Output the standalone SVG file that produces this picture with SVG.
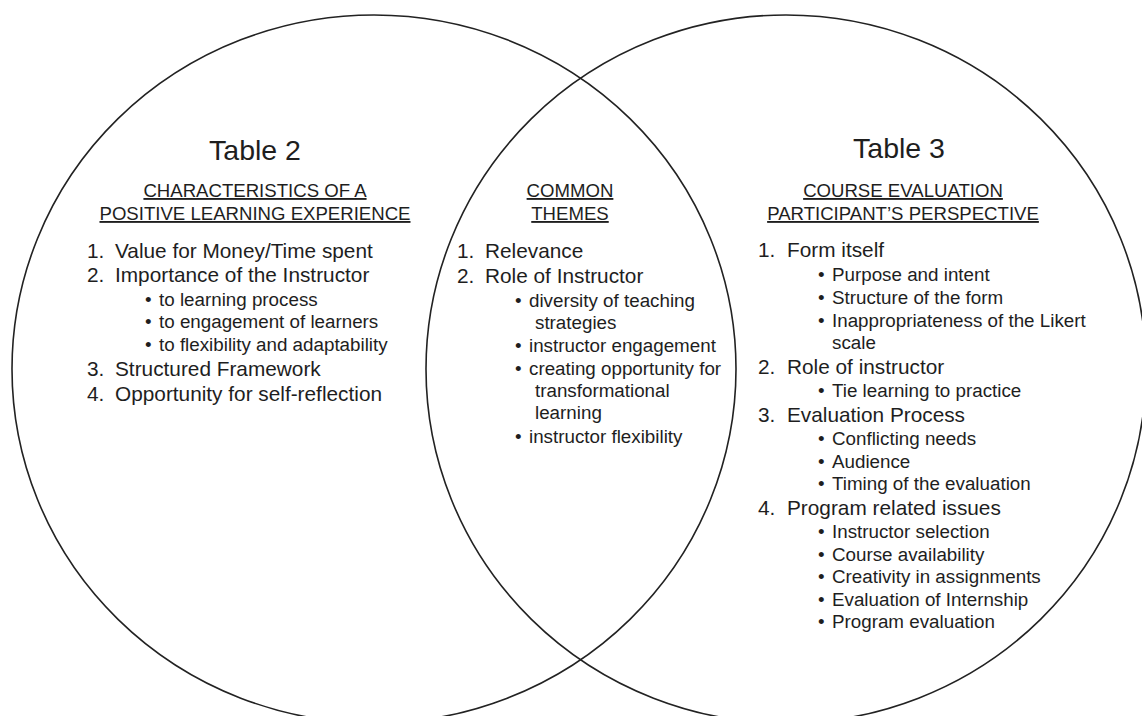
<svg xmlns="http://www.w3.org/2000/svg" width="1142" height="716" viewBox="0 0 1142 716">
<style>
.c{fill:none;stroke:#222;stroke-width:1.6}
text{font-family:"Liberation Sans",Arial,sans-serif;fill:#1e1e1e}
.t{font-size:28.5px;text-anchor:middle}
.h{font-size:18.6px;text-anchor:middle;text-decoration:underline}
.m{font-size:20.8px}
.s{font-size:18.8px}
</style>
<rect width="1142" height="716" fill="#fff"/>
<g id="circle-table2">
<ellipse class="c" cx="374" cy="369" rx="362" ry="354"/>
</g>
<g id="circle-table3">
<ellipse class="c" cx="786" cy="369" rx="360" ry="354"/>
</g>
<g id="table2-text">
<text class="t" x="255" y="160">Table 2</text>
<text class="h" x="255" y="197">CHARACTERISTICS OF A</text>
<text class="h" x="255" y="220">POSITIVE LEARNING EXPERIENCE</text>
<text class="m" x="87" y="258">1.</text><text class="m" x="115" y="258">Value for Money/Time spent</text>
<text class="m" x="87" y="282">2.</text><text class="m" x="115" y="282">Importance of the Instructor</text>
<text class="s" x="145" y="306">•</text><text class="s" x="159" y="306">to learning process</text>
<text class="s" x="145" y="328">•</text><text class="s" x="159" y="328">to engagement of learners</text>
<text class="s" x="145" y="351">•</text><text class="s" x="159" y="351">to flexibility and adaptability</text>
<text class="m" x="87" y="376">3.</text><text class="m" x="115" y="376">Structured Framework</text>
<text class="m" x="87" y="401">4.</text><text class="m" x="115" y="401">Opportunity for self-reflection</text>
</g>
<g id="common-themes">
<text class="h" x="570" y="197">COMMON</text>
<text class="h" x="570" y="220"> THEMES</text>
<text class="m" x="457" y="258">1.</text><text class="m" x="485" y="258">Relevance</text>
<text class="m" x="457" y="283">2.</text><text class="m" x="485" y="283">Role of Instructor</text>
<text class="s" x="515" y="307">•</text><text class="s" x="529" y="307">diversity of teaching</text>
<text class="s" x="535" y="329">strategies</text>
<text class="s" x="515" y="352">•</text><text class="s" x="529" y="352">instructor engagement</text>
<text class="s" x="515" y="375">•</text><text class="s" x="529" y="375">creating opportunity for</text>
<text class="s" x="535" y="397">transformational</text>
<text class="s" x="535" y="419">learning</text>
<text class="s" x="515" y="443">•</text><text class="s" x="529" y="443">instructor flexibility</text>
</g>
<g id="table3-text">
<text class="t" x="899" y="158">Table 3</text>
<text class="h" x="903" y="197">COURSE EVALUATION</text>
<text class="h" x="903" y="220">PARTICIPANT’S PERSPECTIVE</text>
<text class="m" x="758" y="257">1.</text><text class="m" x="787" y="257">Form itself</text>
<text class="s" x="818" y="281">•</text><text class="s" x="832" y="281">Purpose and intent</text>
<text class="s" x="818" y="304">•</text><text class="s" x="832" y="304">Structure of the form</text>
<text class="s" x="818" y="327">•</text><text class="s" x="832" y="327">Inappropriateness of the Likert</text>
<text class="s" x="832" y="349">scale</text>
<text class="m" x="758" y="374">2.</text><text class="m" x="787" y="374">Role of instructor</text>
<text class="s" x="818" y="397">•</text><text class="s" x="832" y="397">Tie learning to practice</text>
<text class="m" x="758" y="422">3.</text><text class="m" x="787" y="422">Evaluation Process</text>
<text class="s" x="818" y="445">•</text><text class="s" x="832" y="445">Conflicting needs</text>
<text class="s" x="818" y="468">•</text><text class="s" x="832" y="468">Audience</text>
<text class="s" x="818" y="490">•</text><text class="s" x="832" y="490">Timing of the evaluation</text>
<text class="m" x="758" y="515">4.</text><text class="m" x="787" y="515">Program related issues</text>
<text class="s" x="818" y="538">•</text><text class="s" x="832" y="538">Instructor selection</text>
<text class="s" x="818" y="561">•</text><text class="s" x="832" y="561">Course availability</text>
<text class="s" x="818" y="583">•</text><text class="s" x="832" y="583">Creativity in assignments</text>
<text class="s" x="818" y="606">•</text><text class="s" x="832" y="606">Evaluation of Internship</text>
<text class="s" x="818" y="628">•</text><text class="s" x="832" y="628">Program evaluation</text>
</g>
</svg>
